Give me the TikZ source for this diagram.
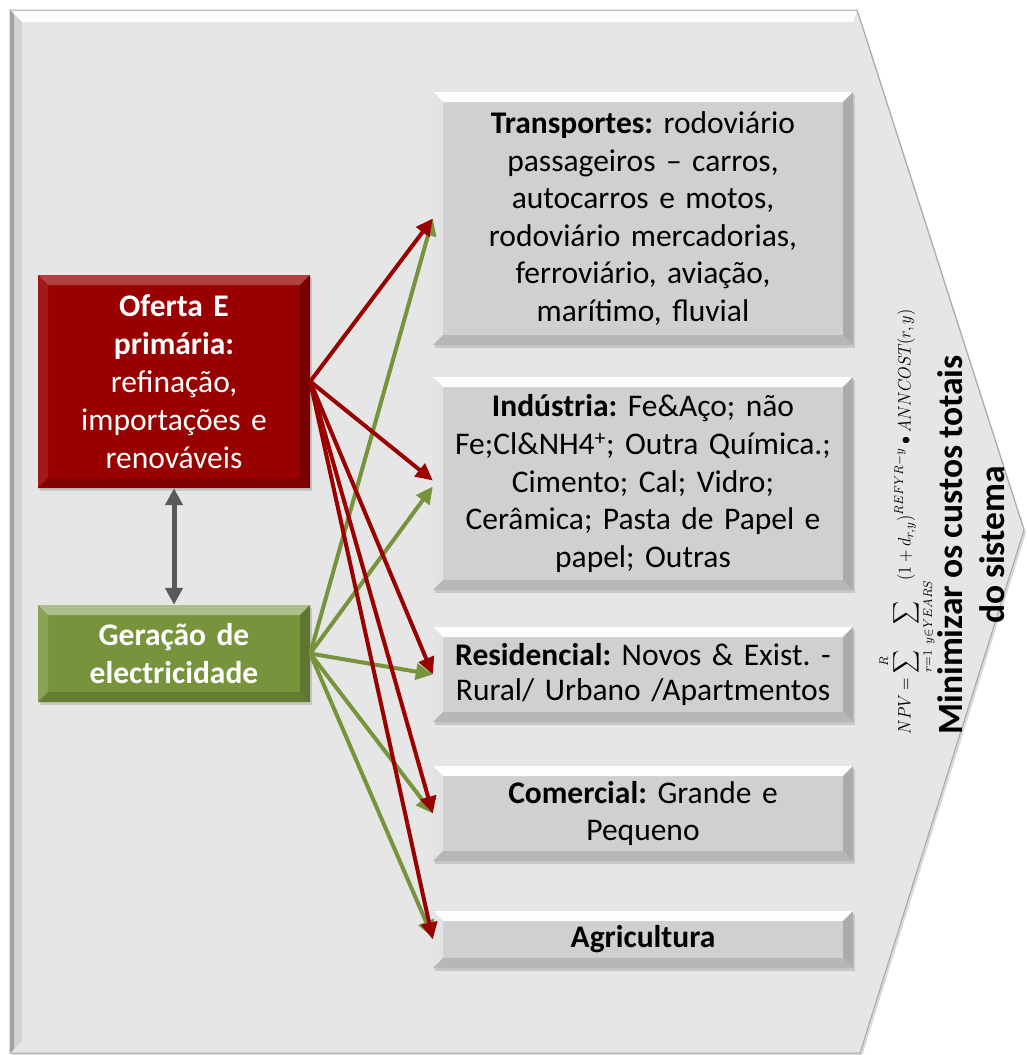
\documentclass[tikz,border=0pt]{standalone}
\usepackage{fontspec}
\setmainfont{Carlito}[WordSpace=0.85]
\usepackage{graphicx}
\usetikzlibrary{arrows.meta,shadows}
\frenchspacing
\definecolor{bgfill}{HTML}{E6E6E6}
\definecolor{boxgray}{HTML}{D0D0D0}
\definecolor{redbox}{HTML}{990000}
\definecolor{greenbox}{HTML}{77933C}
\definecolor{arrgray}{HTML}{595959}
\newcommand\bvl{10pt}
\tikzset{
  bevel/.style n args={4}{path picture={
    \coordinate (bNW) at (path picture bounding box.north west);
    \coordinate (bNE) at (path picture bounding box.north east);
    \coordinate (bSE) at (path picture bounding box.south east);
    \coordinate (bSW) at (path picture bounding box.south west);
    \fill[#1] (bNW) -- (bNE) -- ([xshift=-\bvl,yshift=-\bvl]bNE) -- ([xshift=\bvl,yshift=-\bvl]bNW) -- cycle;
    \fill[#2] (bNW) -- ([xshift=\bvl,yshift=-\bvl]bNW) -- ([xshift=\bvl,yshift=\bvl]bSW) -- (bSW) -- cycle;
    \fill[#3] (bNE) -- (bSE) -- ([xshift=-\bvl,yshift=\bvl]bSE) -- ([xshift=-\bvl,yshift=-\bvl]bNE) -- cycle;
    \fill[#4] (bSW) -- (bSE) -- ([xshift=-\bvl,yshift=\bvl]bSE) -- ([xshift=\bvl,yshift=\bvl]bSW) -- cycle;
  }},
  basebox/.style={rectangle, inner sep=0pt, align=center,
    font=\fontsize{31.5}{37.6}\selectfont,
    drop shadow={shadow xshift=2pt,shadow yshift=-3pt,opacity=.3}},
  graybox/.style={basebox, fill=boxgray, minimum width=420pt, text width=416pt,
    bevel={white!95!boxgray}{boxgray!60!white}{boxgray!82!black}{boxgray!88!black}},
  redbx/.style={basebox, fill=redbox, text=white, minimum width=272pt, text width=268pt,
    bevel={redbox!75!white}{redbox!90!white}{redbox!80!black}{redbox!85!black}},
  greenbx/.style={basebox, fill=greenbox, text=white, minimum width=272pt, text width=268pt,
    bevel={greenbox!60!white}{greenbox!85!white}{greenbox!80!black}{greenbox!85!black}},
  redarr/.style={draw=redbox, line width=4pt, -{Triangle[width=16pt,length=17pt]}},
  greenarr/.style={draw=greenbox, line width=4pt, -{Triangle[width=16pt,length=17pt]}},
  grayarr/.style={draw=arrgray, line width=5pt, {Triangle[width=17pt,length=17pt]}-{Triangle[width=17pt,length=17pt]}},
}
\begin{document}
\begin{tikzpicture}[x=1pt,y=-1pt]
\useasboundingbox (0,0) rectangle (1026,1055);
% background arrow shape
\fill[bgfill, drop shadow={shadow xshift=2pt,shadow yshift=-3pt,opacity=.3}]
  (10,10) -- (857,10) -- (1024,530) -- (860,1053) -- (10,1053) -- cycle;
\fill[white!92!bgfill] (10,10) -- (857,10) -- (853,22) -- (22,22) -- cycle;
\fill[bgfill!92!black] (10,10) -- (22,22) -- (22,1041) -- (10,1053) -- cycle;
\fill[bgfill!70!black] (10,10) -- (14,14) -- (14,1049) -- (10,1053) -- cycle;
\draw[gray!70, line width=1pt] (10,10) -- (857,10) -- (1024,530) -- (860,1053) -- (10,1053) -- cycle;

% demand boxes
\node[graybox, minimum height=253pt] (trans) at (643,218.5)
  {\textbf{Transportes:} rodoviário\\ passageiros – carros,\\ autocarros e motos,\\ rodoviário mercadorias,\\ ferroviário, aviação,\\ marítimo, fluvial};
\node[graybox, minimum height=213pt] (ind) at (643,483.5)
  {\textbf{Indústria:} Fe\&Aço; não\\ Fe;Cl\&NH4\textsuperscript{+}; Outra Química.;\\ Cimento; Cal; Vidro;\\ Cerâmica; Pasta de Papel e\\ papel; Outras};
\node[graybox, minimum height=95pt, font=\fontsize{31.5}{35}\selectfont] (res) at (643,674.5)
  {\textbf{Residencial:} Novos \& Exist. -\\ Rural/ Urbano /Apartmentos};
\node[graybox, minimum height=95pt] (com) at (643,813.5)
  {\textbf{Comercial:} Grande e\\ Pequeno};
\node[graybox, minimum height=57pt] (agr) at (643,939.5)
  {\textbf{Agricultura}};

% supply boxes
\node[redbx, minimum height=213pt, font=\fontsize{31.5}{38}\selectfont] (oferta) at (174,381.5)
  {\textbf{Oferta E}\\ \textbf{primária:}\\ refinação,\\ importações e\\ renováveis};
\node[greenbx, minimum height=97pt] (ger) at (174,653.5)
  {\textbf{Geração de}\\ \textbf{electricidade}};

\draw[grayarr] (oferta.south) -- (ger.north);

% connectors
\draw[greenarr] (ger.east) -- (trans.west);
\draw[greenarr] (ger.east) -- ([yshift=-3pt]ind.west);
\draw[greenarr] (ger.east) -- (res.west);
\draw[greenarr] (ger.east) -- (com.west);
\draw[greenarr] (ger.east) -- ([yshift=2pt]agr.west);
\draw[redarr] (oferta.east) -- (trans.west);
\draw[redarr] (oferta.east) -- ([yshift=3pt]ind.west);
\draw[redarr] (oferta.east) -- (res.west);
\draw[redarr] (oferta.east) -- (com.west);
\draw[redarr] (oferta.east) -- (agr.west);

% objective
\node[rotate=90, inner sep=0pt] (npv) at (907,522)
  {\resizebox{425pt}{33pt}{$\displaystyle NPV=\sum_{r=1}^{R}\ \sum_{y\in YEARS}(1+d_{r,y})^{REFYR-y}\bullet ANNCOST(r,y)$}};
\node[rotate=90, align=center, inner sep=0pt, font=\bfseries\fontsize{35.5}{42}\selectfont] (goal) at (971,545)
  {Minimizar os custos totais\\ do sistema};
\end{tikzpicture}
\end{document}
